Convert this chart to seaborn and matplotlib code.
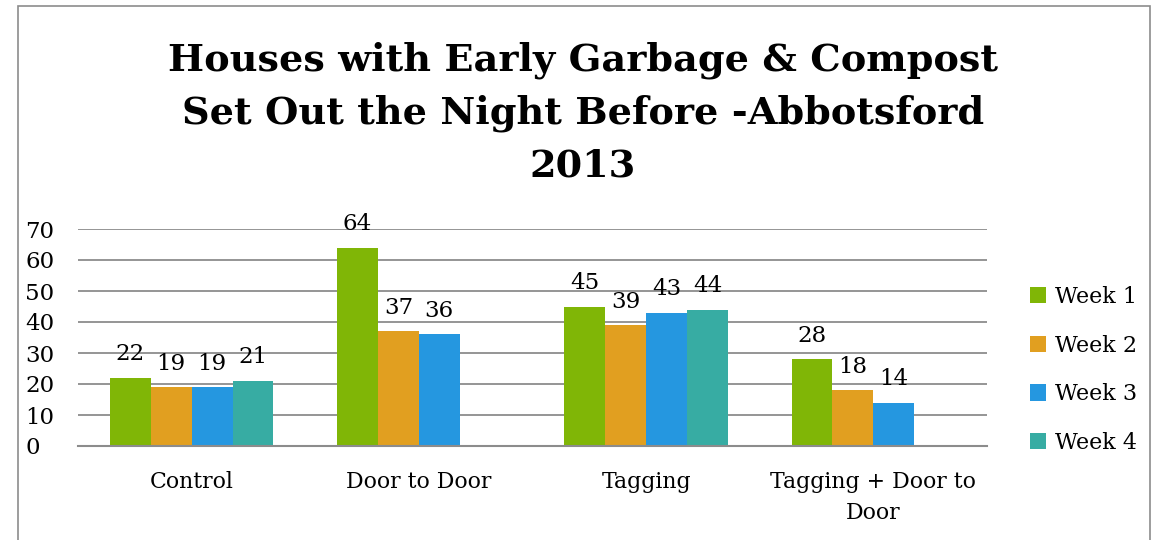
import numpy as np
import pandas as pd
import matplotlib
matplotlib.use("Agg")
import matplotlib.pyplot as plt
import seaborn as sns
from matplotlib.patches import Rectangle

categories = ["Control", "Door to Door", "Tagging", "Tagging + Door to\nDoor"]
weeks = ["Week 1", "Week 2", "Week 3", "Week 4"]
week1 = [22, 64, 45, 28]
week2 = [19, 37, 39, 18]
week3 = [19, 36, 43, 14]
week4 = [21, np.nan, 44, np.nan]
colors = ["#80B606", "#E19F20", "#2597E0", "#37ACA3"]
title = "Houses with Early Garbage & Compost\nSet Out the Night Before -Abbotsford\n2013"

rows = []
for w, vals in zip(weeks, [week1, week2, week3, week4]):
    for c, v in zip(categories, vals):
        rows.append({"Category": c, "Week": w, "Value": v})
df = pd.DataFrame(rows)

sns.set_theme(style="white")
plt.rcParams['font.family'] = ['DejaVu Serif']
plt.rcParams['text.color'] = 'black'

fig = plt.figure(figsize=(11.55, 5.4), dpi=100)
ax = fig.add_axes([78/1155, 1 - 446/540, (987-78)/1155, (446-229)/540])

sns.barplot(data=df, x="Category", y="Value", hue="Week", order=categories,
            hue_order=weeks, palette=colors, width=0.72, saturation=1,
            edgecolor="none", linewidth=0, ax=ax, errorbar=None)

ax.set_ylim(0, 70)
ax.set_yticks(range(0, 71, 10))
ax.yaxis.grid(True, color="#8c8c8c", linewidth=1.3)
ax.set_axisbelow(True)
for s in ["left", "right", "top"]:
    ax.spines[s].set_visible(False)
ax.spines["bottom"].set_color("#8c8c8c")
ax.spines["bottom"].set_linewidth(1.5)
ax.tick_params(axis="y", length=0, labelsize=16.5, colors="black", pad=38)
ax.tick_params(axis="x", length=0, labelsize=15.8, colors="black", pad=18)
for lab in ax.get_yticklabels():
    lab.set_horizontalalignment("left")
for lab in ax.get_xticklabels():
    lab.set_linespacing(1.55)
ax.set_xlabel("")
ax.set_ylabel("")

for cont in ax.containers:
    labels = ["" if np.isnan(v) else f"{int(v)}" for v in cont.datavalues]
    ax.bar_label(cont, labels=labels, padding=9, fontsize=16.5, color="black")

handles, labs = ax.get_legend_handles_labels()
ax.legend(handles, labs, loc="center left", bbox_to_anchor=(1.025, 0.35),
          frameon=False, fontsize=16, handlelength=0.75, handleheight=0.75,
          handletextpad=0.4, labelspacing=1.2, labelcolor="black")

fig.text(583/1155, 1 - 113/540, title, ha="center", va="center",
         fontsize=27.5, fontweight="bold", linespacing=1.55, color="black")

fig.patches.append(Rectangle((18/1155, -0.05), (1150-18)/1155, 1 - 6/540 + 0.05,
                             transform=fig.transFigure, fill=False,
                             edgecolor="#8c8c8c", linewidth=1.2))

fig.savefig("out.png", dpi=100)
